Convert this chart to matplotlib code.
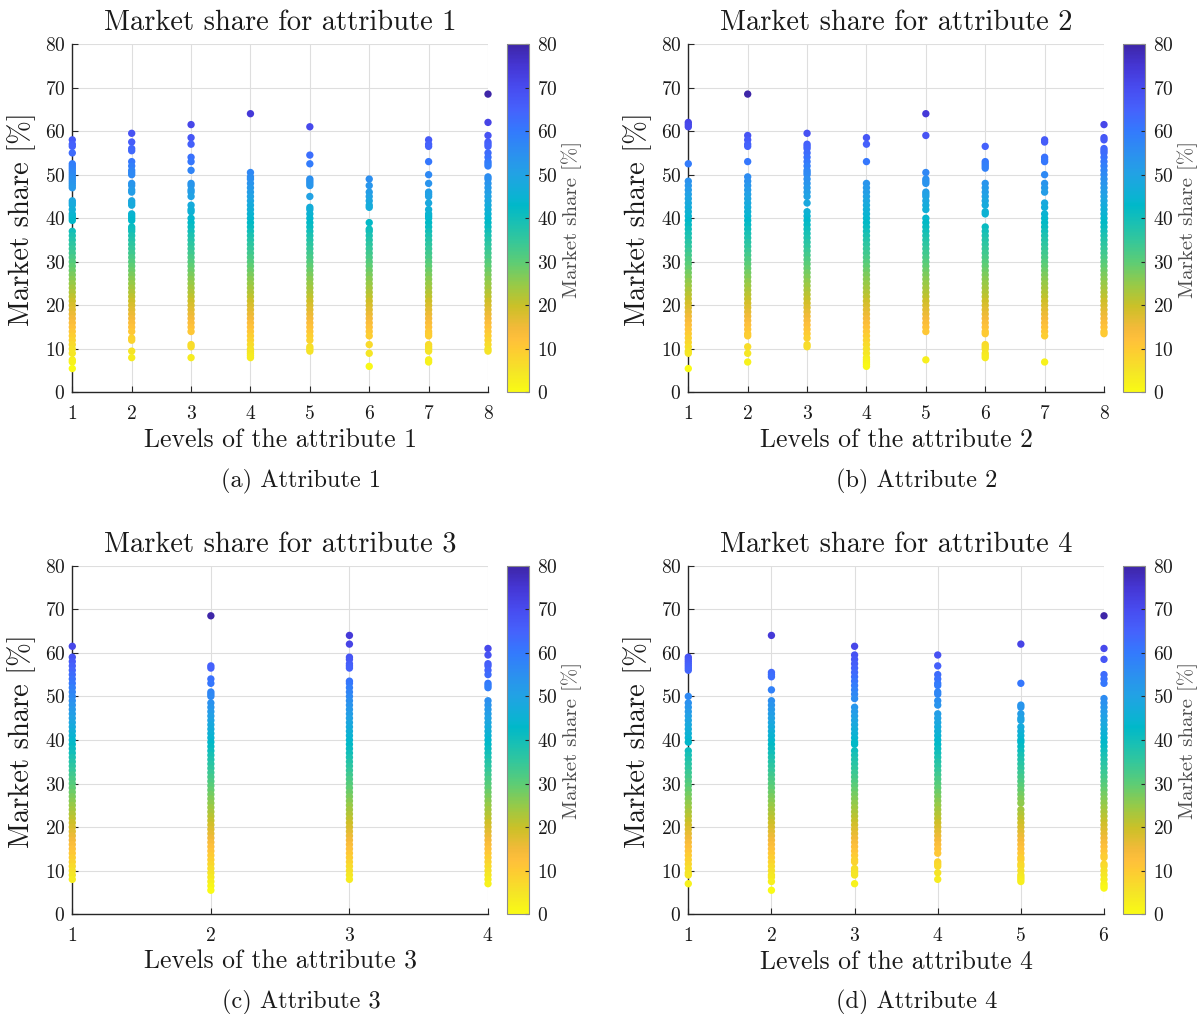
import matplotlib
matplotlib.use("Agg")
import matplotlib.pyplot as plt
from matplotlib.colors import LinearSegmentedColormap, Normalize
import matplotlib.cm as cm

# ---------------- data (market share [%] per level) ----------------
a1_l1 = [58, 57, 56.5, 55, 52.5, 52, 51.5, 51, 50.5, 50, 49.5, 49, 48.5, 48, 47.5, 47, 44, 43.5, 43, 42, 41, 40.5, 40, 39.5,
         37, 36, 35, 34, 33, 32, 31, 30, 29, 28, 27, 26, 25, 24, 23, 22, 21, 20, 19, 18, 17, 16, 15, 14, 13, 12, 11, 10, 9, 7.5, 7, 5.5]
a1_l2 = [59.5, 57.5, 56, 55.5, 53, 52, 51, 50.5, 50, 48, 47.5, 46.5, 46, 44, 43.5, 43, 41, 40.5, 40, 39.5, 38, 37.5, 37, 36, 35,
         34, 33, 32, 31, 30, 29, 28, 27, 26, 25, 24, 23, 22, 21, 20, 19, 18, 17, 16, 15, 14, 12.5, 12, 9.5, 8]
a1_l3 = [61.5, 58.5, 57, 54, 53, 51, 48, 47.5, 46.5, 46, 45, 43, 42, 41.5, 40, 39, 38, 37, 36, 35, 34, 33, 32, 31, 30, 29, 28,
         27, 26, 25, 24, 23, 22, 21, 20, 19, 18, 17, 16, 15, 14, 11, 10.5, 8]
a1_l4 = [64, 50.5, 49.5, 49, 48, 47, 46, 45, 44, 43, 42, 41, 40, 39, 38, 37, 36, 35, 34, 33, 32, 31, 30, 29, 28, 27, 26, 25, 24,
         23, 22, 21, 20, 19, 18, 17, 16, 15, 14, 13, 12, 11, 10, 9.5, 9, 8.5, 8]
a1_l5 = [61, 54.5, 52.5, 49, 48.5, 48, 47.5, 45, 42.5, 42, 41, 40, 39, 38, 37, 36, 35, 34, 33, 32, 31, 30, 29, 28, 27, 26, 25,
         24, 23, 22, 21, 20, 19, 18, 17, 16, 15, 14, 13, 12, 10.5, 10, 9.5]
a1_l6 = [49, 47.5, 46, 45, 44, 43, 42.5, 39, 37.5, 37, 36, 35, 34, 33, 32, 31, 30, 29, 28, 27, 26, 25, 24, 23, 22, 21, 20, 19,
         18, 17, 16, 15, 14, 13, 11, 9, 6]
a1_l7 = [58, 57, 56.5, 53, 50, 48, 46, 45.5, 45, 43.5, 42, 41, 40.5, 40, 39, 38, 37, 36, 35, 34, 33, 32, 31, 30, 29, 28, 27, 26,
         25, 24, 23, 22, 21, 20, 19, 18, 17, 16, 15, 14, 13.5, 13, 11, 10.5, 10, 9.5, 7.5, 7]
a1_l8 = [68.5, 62, 59, 57.5, 57, 56.5, 55, 54, 53, 52.5, 52, 49.5, 49, 48, 47, 46, 45, 44, 43, 42, 41, 40, 39, 38, 37, 36, 35,
         34, 33, 32, 31, 30, 29, 28, 27, 26, 25, 24, 23, 22, 21, 20, 19, 18, 17, 16, 15, 14, 13, 12, 11, 10, 9.5]

a2_l1 = [62, 61.5, 61, 52.5, 48.5, 47.5, 46.5, 45.5, 44.5, 43.5, 42.5, 41.5, 40.5, 39.5, 38.5, 37.5, 36.5, 35.5, 34.5, 33.5,
         32.5, 31.5, 30.5, 29.5, 28.5, 27.5, 26.5, 25.5, 24.5, 23.5, 22.5, 21.5, 20.5, 19.5, 18.5, 17.5, 16.5, 15.5, 14.5, 13.5,
         12.5, 11.5, 10.5, 9.5, 9, 5.5]
a2_l2 = [68.5, 59, 58, 57, 56.5, 53, 49.5, 48.5, 47.5, 46.5, 45.5, 44.5, 43.5, 42.5, 41.5, 40.5, 39.5, 38.5, 37.5, 36.5, 35.5,
         34.5, 33.5, 32.5, 31.5, 30.5, 29.5, 28.5, 27.5, 26.5, 25.5, 24.5, 23.5, 22.5, 21.5, 20.5, 19.5, 18.5, 17.5, 16.5, 15.5,
         14.5, 13.5, 13, 10.5, 9, 7]
a2_l3 = [59.5, 57, 56.5, 56, 55, 54, 53, 52, 51, 50.5, 50, 49, 48, 47, 46, 45, 43.5, 41.5, 40.5, 39.5, 38.5, 37.5, 36.5, 35.5,
         34.5, 33.5, 32.5, 31.5, 30.5, 29.5, 28.5, 27.5, 26.5, 25.5, 24.5, 23.5, 22.5, 21.5, 20.5, 19.5, 18.5, 17.5, 16.5, 15.5,
         14.5, 13.5, 12.5, 11, 10.5]
a2_l4 = [58.5, 57, 53, 48, 47, 46, 45, 44, 43, 42, 41, 40, 39, 38, 37, 36, 35, 34, 33, 32, 31, 30, 29, 28, 27, 26, 25, 24, 23,
         22, 21, 20, 19, 18, 17, 16, 15, 14, 13, 12, 11, 10, 9, 8, 7.5, 7, 6.5, 6]
a2_l5 = [64, 59, 50.5, 49, 48.5, 48, 46, 45.5, 45, 44, 43, 42, 40, 39, 38, 37, 36, 35, 34, 33, 32, 31, 30, 29, 28, 27, 26, 25,
         24, 23, 22, 21, 20, 19, 18, 17, 16, 15, 14, 7.5]
a2_l6 = [56.5, 53, 52.5, 52, 51.5, 48, 47, 46, 45, 44, 43, 41.5, 41, 38, 37, 36, 35, 34, 33, 32, 31, 30, 29, 28, 27, 26, 25, 24,
         23, 22, 21, 20, 19, 18, 17, 16, 15, 14, 13.5, 11, 10.5, 10, 9, 8.5, 8]
a2_l7 = [58, 57.5, 54, 53.5, 53, 50, 48, 47, 46, 43.5, 42.5, 41, 40, 39, 38, 37, 36, 35, 34, 33, 32, 31, 30, 29, 28, 27, 26, 25,
         24, 23, 22, 21, 20, 19, 18, 17, 16, 15, 14, 13, 7]
a2_l8 = [61.5, 58.5, 58, 56, 55.5, 55, 54, 53, 52, 51, 50, 49, 48, 47, 46, 45, 44, 43, 42, 41, 40, 39, 38, 37, 36, 35, 34, 33,
         32, 31, 30, 29, 28, 27, 26, 25, 24, 23, 22, 21, 20, 19, 18, 17, 16, 15, 14, 13.5]

a3_l1 = [61.5, 59, 58, 57, 56, 55, 54, 53, 52, 51, 50, 49, 48, 47, 46, 45, 44, 43, 42, 41, 40, 39, 38, 37, 36, 35, 34, 33, 32,
         31, 30, 29, 28, 27, 26, 25, 24, 23, 22, 21, 20, 19, 18, 17, 16, 15, 14, 13, 12, 11, 10, 9, 8]
a3_l2 = [68.5, 57, 56.5, 54, 53, 51, 50.5, 50, 48.5, 47.5, 46.5, 45.5, 44.5, 43.5, 42.5, 41.5, 40.5, 39.5, 38.5, 37.5, 36.5,
         35.5, 34.5, 33.5, 32.5, 31.5, 30.5, 29.5, 28.5, 27.5, 26.5, 25.5, 24.5, 23.5, 22.5, 21.5, 20.5, 19.5, 18.5, 17.5, 16.5,
         15.5, 14.5, 13.5, 12.5, 11.5, 10.5, 9.5, 8.5, 7.5, 6.5, 5.5]
a3_l3 = [64, 62, 59, 58.5, 57.5, 57, 56.5, 53.5, 53, 52, 51, 50, 49, 48, 47, 46, 45, 44, 43, 42, 41, 40, 39, 38, 37, 36, 35, 34,
         33, 32, 31, 30, 29, 28, 27, 26, 25, 24, 23, 22, 21, 20, 19, 18, 17, 16, 15, 14, 13, 12, 11, 10, 9, 8]
a3_l4 = [61, 59.5, 57.5, 57, 56, 55, 53, 52.5, 52, 49, 48, 47, 46, 45, 44, 43, 42, 41, 40, 39, 38, 37, 36, 35, 34, 33, 32, 31,
         30, 29, 28, 27, 26, 25, 24, 23, 22, 21, 20, 19, 18, 17, 16, 15, 14, 13, 12, 11, 10, 9, 8, 7]

a4_l1 = [59, 58.5, 58, 57.5, 57, 56.5, 56, 50, 48.5, 47.5, 46.5, 45.5, 44.5, 43.5, 42.5, 41.5, 40.5, 39.5, 37.5, 36.5, 35.5,
         34.5, 33.5, 32.5, 31.5, 30.5, 29.5, 28.5, 27.5, 26.5, 25.5, 24.5, 23.5, 22.5, 21.5, 20.5, 19.5, 18.5, 17.5, 16.5, 15.5,
         14.5, 13.5, 12.5, 11.5, 10.5, 9.5, 9, 7]
a4_l2 = [64, 55.5, 55, 54.5, 51.5, 49, 48, 47, 46, 45, 44, 43, 42, 41, 40, 39, 38, 37, 36, 35, 34, 33, 32, 31, 30, 29, 28, 27,
         26, 25, 24, 23, 22, 21, 20, 19, 18, 17, 16, 15, 14, 13, 12, 11, 10, 9, 8.5, 7.5, 5.5]
a4_l3 = [61.5, 59.5, 58.5, 57.5, 56.5, 55.5, 54.5, 53.5, 52.5, 51.5, 50.5, 49.5, 47.5, 46.5, 45.5, 44.5, 43.5, 42.5, 41.5,
         40.5, 39.5, 39, 37.5, 36.5, 35.5, 34.5, 33.5, 32.5, 31.5, 30.5, 29.5, 28.5, 27.5, 26.5, 25.5, 24.5, 23.5, 22.5, 21.5,
         20.5, 19.5, 18.5, 17.5, 16.5, 15.5, 14.5, 13.5, 12.5, 12, 10.5, 10, 9.5, 9, 7]
a4_l4 = [59.5, 57, 55, 54, 53, 52.5, 51, 50.5, 49, 48, 46, 45, 44, 43, 42, 41, 40, 39, 38, 37, 36, 35, 34, 33, 32, 31, 30, 29,
         28, 27, 26, 25, 24, 23, 22, 21, 20, 19, 18, 17, 16, 15, 14, 12, 11.5, 11, 9.5, 8]
a4_l5 = [62, 53, 48, 47.5, 46, 45, 44.5, 43, 42, 41, 40, 39.5, 38.5, 37.5, 36.5, 35.5, 34.5, 33.5, 32.5, 31.5, 30.5, 29.5, 28.5,
         27.5, 26.5, 25.5, 24, 23, 22, 21, 20, 19, 18, 17, 16, 15, 14, 13, 12.5, 11.5, 11, 10, 9, 8.5, 8, 7.5]
a4_l6 = [68.5, 61, 58.5, 55, 54, 53, 49.5, 48.5, 47.5, 46.5, 45.5, 44.5, 43.5, 42.5, 41.5, 40.5, 39.5, 38.5, 37.5, 36.5, 35.5,
         34.5, 33.5, 32.5, 31.5, 30.5, 29.5, 28.5, 27.5, 26.5, 25.5, 24.5, 23.5, 22.5, 21.5, 20.5, 19.5, 18.5, 17.5, 16.5, 15.5,
         14.5, 13.5, 13, 11.5, 11, 10, 9, 8, 7, 6.5, 6]

attr1 = [a1_l1, a1_l2, a1_l3, a1_l4, a1_l5, a1_l6, a1_l7, a1_l8]
attr2 = [a2_l1, a2_l2, a2_l3, a2_l4, a2_l5, a2_l6, a2_l7, a2_l8]
attr3 = [a3_l1, a3_l2, a3_l3, a3_l4]
attr4 = [a4_l1, a4_l2, a4_l3, a4_l4, a4_l5, a4_l6]
attributes = [attr1, attr2, attr3, attr4]
titles = ["Market share for attribute 1", "Market share for attribute 2",
          "Market share for attribute 3", "Market share for attribute 4"]
xlabels = ["Levels of the attribute 1", "Levels of the attribute 2",
           "Levels of the attribute 3", "Levels of the attribute 4"]
captions = ["(a) Attribute 1", "(b) Attribute 2", "(c) Attribute 3", "(d) Attribute 4"]
y_ticks = [0, 10, 20, 30, 40, 50, 60, 70, 80]

# ---------------- style ----------------
plt.rcParams['font.family'] = ['cmr10', 'DejaVu Serif']
plt.rcParams['axes.formatter.use_mathtext'] = True
plt.rcParams['mathtext.fontset'] = 'cm'

# parula (index/255, rgb) anchors
parula_anchors = [
    (0, (0.2422, 0.1504, 0.6603)), (16, (0.2704, 0.2138, 0.8346)), (32, (0.2813, 0.2985, 0.9397)),
    (48, (0.2710, 0.3860, 0.9898)), (64, (0.2006, 0.4803, 0.9906)), (80, (0.1716, 0.5655, 0.9393)),
    (96, (0.1288, 0.6408, 0.8910)), (112, (0.0433, 0.7039, 0.8242)), (118, (0.0019, 0.7220, 0.7878)),
    (128, (0.0770, 0.7468, 0.7224)), (144, (0.2061, 0.7808, 0.6065)), (160, (0.3671, 0.8021, 0.4563)),
    (176, (0.5886, 0.7913, 0.2833)), (192, (0.7945, 0.7554, 0.1570)), (208, (0.9523, 0.7284, 0.2237)),
    (216, (0.9971, 0.7513, 0.2309)), (224, (0.9938, 0.7974, 0.1974)), (240, (0.9601, 0.8963, 0.1507)),
    (255, (0.9769, 0.9839, 0.0805)),
]
# reversed parula: yellow at low values, dark blue at high values
cmap = LinearSegmentedColormap.from_list(
    "parula_r", [(1 - i / 255, c) for i, c in reversed(parula_anchors)], N=256)
cbar_norm = Normalize(0, 80)

W, H = 1204, 1014
fig = plt.figure(figsize=(W / 100, H / 100), dpi=100)

def frac_rect(l, t, r, b):
    return [l / W, 1 - b / H, (r - l) / W, (b - t) / H]

dx, dy = 616.0, 521.7
panel_origin = [(0, 0), (dx, 0), (0, dy), (dx, dy)]
TXT = '#1a1a1a'

for k, (ox, oy) in enumerate(panel_origin):
    data = attributes[k]
    levels = list(range(1, len(data) + 1))
    all_vals = [v for vals in data for v in vals]
    pt_norm = Normalize(min(all_vals), max(all_vals))  # colour scaled to data range
    ax = fig.add_axes(frac_rect(72.3 + ox, 44 + oy, 488 + ox, 392.5 + oy))
    for lev, vals in zip(levels, data):
        ax.scatter([lev] * len(vals), vals, c=vals, cmap=cmap, norm=pt_norm, s=28,
                   linewidths=0, zorder=3, clip_on=False)
    ax.set_xlim(levels[0], levels[-1])
    ax.set_ylim(0, 80)
    ax.set_xticks(levels)
    ax.set_yticks(y_ticks)
    ax.grid(True, color='#dedede', linewidth=0.8)
    ax.set_axisbelow(True)
    for s in ('top', 'right'):
        ax.spines[s].set_visible(False)
    for s in ('left', 'bottom'):
        ax.spines[s].set_color('#262626')
        ax.spines[s].set_linewidth(1.0)
    ax.tick_params(direction='in', length=4.5, width=0.8, colors='#262626',
                   labelsize=14, labelcolor=TXT)
    ax.tick_params(axis='y', pad=5)
    ax.tick_params(axis='x', pad=9)

    cx = (72.3 + 488) / 2 + ox
    fig.text(cx / W, 1 - (30.5 + oy) / H, titles[k], ha='center', va='baseline',
             fontsize=20.5, color=TXT)
    fig.text(cx / W, 1 - (447 + oy) / H, xlabels[k], ha='center', va='baseline',
             fontsize=18.5, color=TXT)
    fig.text((22 + ox) / W, 1 - (219 + oy) / H, "Market share [%]", rotation=90,
             ha='center', va='center', fontsize=20.5, color=TXT)
    fig.text((301 + ox) / W, 1 - (487 + oy) / H, captions[k], ha='center', va='baseline',
             fontsize=17.5, color=TXT)

    cax = fig.add_axes(frac_rect(507 + ox, 44 + oy, 529 + ox, 392.5 + oy))
    sm = cm.ScalarMappable(norm=cbar_norm, cmap=cmap)
    cb = fig.colorbar(sm, cax=cax)
    cb.set_ticks(y_ticks)
    cb.outline.set_edgecolor('#8c8c8c')
    cb.outline.set_linewidth(0.8)
    cax.tick_params(direction='in', length=3, width=0.8, colors='#262626',
                    labelsize=14, labelcolor=TXT, pad=6)
    fig.text((572 + ox) / W, 1 - (219 + oy) / H, "Market share [%]", rotation=90,
             ha='center', va='center', fontsize=15, color='#4d4d4d')

fig.savefig("out.png", dpi=100)
